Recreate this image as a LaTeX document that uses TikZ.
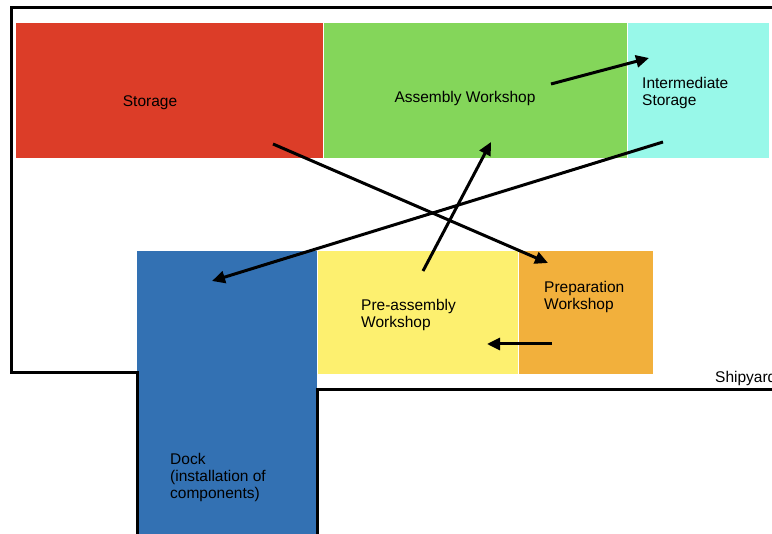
\documentclass[tikz,border=0pt]{standalone}
\usepackage{fontspec}
\setmainfont{Liberation Sans}
\usetikzlibrary{arrows.meta}

\definecolor{storagered}{HTML}{DC3D28}
\definecolor{assemblygreen}{HTML}{84D65A}
\definecolor{interstorcyan}{HTML}{98F8E9}
\definecolor{dockblue}{HTML}{3371B3}
\definecolor{preassyellow}{HTML}{FDF06F}
\definecolor{prepworange}{HTML}{F2B03C}

\begin{document}
\begin{tikzpicture}[
  x=1pt,
  y=-1pt,
  line join=miter,
  room/.style={rectangle,anchor=north west,inner sep=0pt,draw=white,line width=0.5pt},
  label/.style={anchor=base west,inner sep=0pt,align=left,
    font=\fontsize{15.5}{17}\selectfont},
  wall/.style={draw=black,line width=3pt},
  flow/.style={draw=black,line width=3pt,-{Triangle[length=13pt,width=12pt]}}
]
  \useasboundingbox (0,0) rectangle (772,534);

  % Rooms of the shipyard.
  \node[room,fill=storagered,minimum width=308,minimum height=136] (storage) at (15,22) {};
  \node[room,fill=assemblygreen,minimum width=304,minimum height=136] (assembly) at (323,22) {};
  \node[room,fill=interstorcyan,minimum width=142,minimum height=136] (interstor) at (627,22) {};
  \node[room,fill=dockblue,minimum width=181,minimum height=290] (dock) at (136,250) {};
  \node[room,fill=preassyellow,minimum width=201,minimum height=124] (preass) at (317,250) {};
  \node[room,fill=prepworange,minimum width=135,minimum height=124] (prepw) at (518,250) {};

  % Room names (base is the last line).
  \node[label,anchor=base] (storage-text) at (150,107) {Storage};
  \node[label,anchor=base] (assembly-text) at (465,103) {Assembly Workshop};
  \node[label] (interstor-text) at (642,106) {Intermediate\\Storage};
  \node[label] (preass-text) at (361,328) {Pre-assembly\\Workshop};
  \node[label] (prepw-text) at (544,310) {Preparation\\Workshop};
  \node[label] (dock-text) at (170,499) {Dock\\(installation of\\components)};

  % Shipyard boundary.
  \draw[wall] (772,8) -- (11,8) -- (11,373) -- (137.5,373) -- (137.5,536);
  \draw[wall] (317,536) -- (317,389.5) -- (774,389.5);
  \node[label] (shipyard-text) at (715,383) {Shipyard};

  % Ends of the material flow.
  \coordinate (storage-out) at (273,144);
  \coordinate (prepw-in) at (548,263);
  \coordinate (prepw-out) at (552,344);
  \coordinate (preass-in) at (487,344);
  \coordinate (preass-out) at (423,271);
  \coordinate (assembly-in) at (491,142);
  \coordinate (assembly-out) at (551,84);
  \coordinate (interstor-in) at (649,58);
  \coordinate (interstor-out) at (663,142);
  \coordinate (dock-in) at (212,281);

  % Material flow.
  \foreach \a/\b in {storage-out/prepw-in,prepw-out/preass-in,
      preass-out/assembly-in,assembly-out/interstor-in,interstor-out/dock-in} {
    \draw[flow] (\a) -- (\b);
  }
\end{tikzpicture}
\end{document}
